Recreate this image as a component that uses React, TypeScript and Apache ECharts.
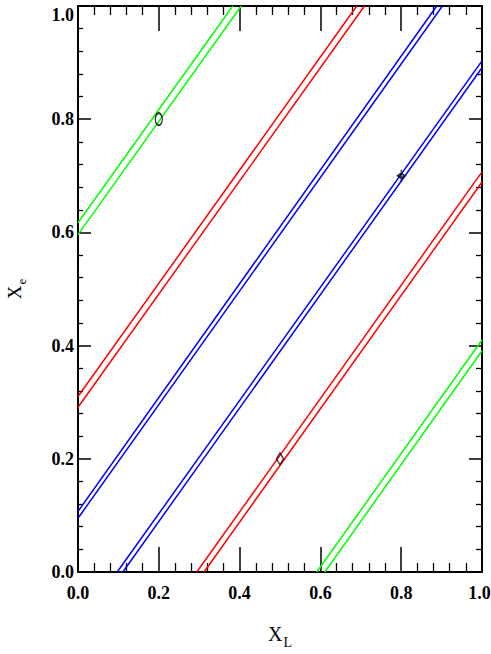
import React, { useEffect, useRef } from "react";
import * as echarts from "echarts";

// Axis range and tick step
const axisMin = 0;
const axisMax = 1;
const tickStep = 0.2;

// Line pairs: endpoints [x, y]
const greenUpperA = [[0, 0.617], [0.383, 1]];
const greenUpperB = [[0, 0.596], [0.404, 1]];
const redUpperA = [[0, 0.31], [0.69, 1]];
const redUpperB = [[0, 0.291], [0.709, 1]];
const blueUpperA = [[0, 0.107], [0.888, 1]];
const blueUpperB = [[0, 0.095], [0.902, 1]];
const blueLowerA = [[0.097, 0], [1, 0.903]];
const blueLowerB = [[0.111, 0], [1, 0.891]];
const redLowerA = [[0.294, 0], [1, 0.707]];
const redLowerB = [[0.312, 0], [1, 0.689]];
const greenLowerA = [[0.591, 0], [1, 0.41]];
const greenLowerB = [[0.611, 0], [1, 0.391]];

// Markers
const circleMarker = [[0.2, 0.8]];
const diamondMarker = [[0.5, 0.2]];
const crossMarker = [[0.8, 0.7]];

const GREEN = "#00ff00";
const RED = "#ff0000";
const BLUE = "#0000ff";

const labelFont = "'Liberation Serif', 'DejaVu Serif', serif";
const nameFont = "'Liberation Serif', 'DejaVu Serif', serif";

function lineSeries(name: string, data: number[][], color: string) {
  return {
    name,
    type: "line",
    data,
    symbol: "none",
    silent: true,
    lineStyle: { color, width: 1.5 },
    z: 2,
  };
}

export default function App() {
  const ref = useRef<HTMLDivElement>(null);
  useEffect(() => {
    if (!ref.current) return;
    const chart = echarts.init(ref.current, null, { renderer: "svg" });
    const tickCommon = (tickLen: number, minorLen: number) => ({
      axisLine: { show: true, onZero: false, lineStyle: { color: "#000", width: 2 } },
      axisTick: { show: true, inside: true, length: tickLen, lineStyle: { color: "#000", width: 1.5 } },
      minorTick: { show: true, splitNumber: 5, length: minorLen, lineStyle: { color: "#000", width: 1.3 } },
      splitLine: { show: false },
      minorSplitLine: { show: false },
    });
    const labelStyle = {
      color: "#000",
      fontFamily: labelFont,
      fontSize: 18,
      fontWeight: "bold",
    };
    const nameRich = {
      x: { fontFamily: nameFont, fontSize: 20, color: "#000", verticalAlign: "bottom", padding: [0, 1, 5, 0] },
      s: { fontFamily: nameFont, fontSize: 14, color: "#000", verticalAlign: "bottom" },
    };
    const yNameRich = {
      x: { fontFamily: nameFont, fontSize: 19, color: "#000", verticalAlign: "bottom", padding: [0, 1, 4, 0] },
      s: { fontFamily: nameFont, fontSize: 13, color: "#000", verticalAlign: "bottom" },
    };
    chart.setOption({
      animation: false,
      backgroundColor: "#fff",
      grid: { left: 78, right: 9, top: 6, bottom: 82, containLabel: false, outerBoundsMode: "none" },
      xAxis: [
        {
          type: "value",
          min: axisMin,
          max: axisMax,
          interval: tickStep,
          position: "bottom",
          ...tickCommon(25, 9),
          axisLabel: {
            ...labelStyle,
            margin: 12,
            formatter: (v: number) => (v >= axisMax ? "{m|" + v.toFixed(1) + "}" : v.toFixed(1)),
            rich: { m: { ...labelStyle, padding: [0, 5, 0, 0] } },
          },
          name: "{x|X}{s|L}",
          nameLocation: "middle",
          nameGap: 52,
          nameTextStyle: { rich: nameRich },
        },
        {
          type: "value",
          min: axisMin,
          max: axisMax,
          interval: tickStep,
          position: "top",
          ...tickCommon(25, 9),
          axisLabel: { show: false },
        },
      ],
      yAxis: [
        {
          type: "value",
          min: axisMin,
          max: axisMax,
          interval: tickStep,
          position: "left",
          ...tickCommon(13, 5),
          axisLabel: {
            ...labelStyle,
            margin: 4,
            verticalAlignMaxLabel: "top",
            formatter: (v: number) => v.toFixed(1),
          },
          name: "{x|X}{s|e}",
          nameLocation: "middle",
          nameGap: 50,
          nameTextStyle: { rich: yNameRich },
        },
        {
          type: "value",
          min: axisMin,
          max: axisMax,
          interval: tickStep,
          position: "right",
          ...tickCommon(13, 6),
          axisLabel: { show: false },
        },
      ],
      series: [
        lineSeries("greenUpperA", greenUpperA, GREEN),
        lineSeries("greenUpperB", greenUpperB, GREEN),
        lineSeries("redUpperA", redUpperA, RED),
        lineSeries("redUpperB", redUpperB, RED),
        lineSeries("blueUpperA", blueUpperA, BLUE),
        lineSeries("blueUpperB", blueUpperB, BLUE),
        lineSeries("blueLowerA", blueLowerA, BLUE),
        lineSeries("blueLowerB", blueLowerB, BLUE),
        lineSeries("redLowerA", redLowerA, RED),
        lineSeries("redLowerB", redLowerB, RED),
        lineSeries("greenLowerA", greenLowerA, GREEN),
        lineSeries("greenLowerB", greenLowerB, GREEN),
        {
          name: "circle",
          type: "scatter",
          data: circleMarker,
          symbol: "circle",
          symbolSize: [7, 12],
          itemStyle: { color: "rgba(0,0,0,0)", borderColor: "#000", borderWidth: 1.6 },
          z: 5,
        },
        {
          name: "diamond",
          type: "scatter",
          data: diamondMarker,
          symbol: "diamond",
          symbolSize: [7, 12],
          itemStyle: { color: "rgba(0,0,0,0)", borderColor: "#000", borderWidth: 1.4 },
          z: 5,
        },
        {
          name: "cross",
          type: "scatter",
          data: crossMarker,
          symbol: "path://M5,0L5,12M2.5,6L5,3.5L7.5,6L5,8.5Z",
          symbolSize: [7, 12],
          itemStyle: { color: "rgba(0,0,0,0)", borderColor: "#000", borderWidth: 1.6 },
          z: 5,
        },
      ],
    });
    return () => chart.dispose();
  }, []);
  return (
    <div
      ref={ref}
      style={{ position: "fixed", left: 0, top: 0, width: 491, height: 654, background: "#fff" }}
    />
  );
}
